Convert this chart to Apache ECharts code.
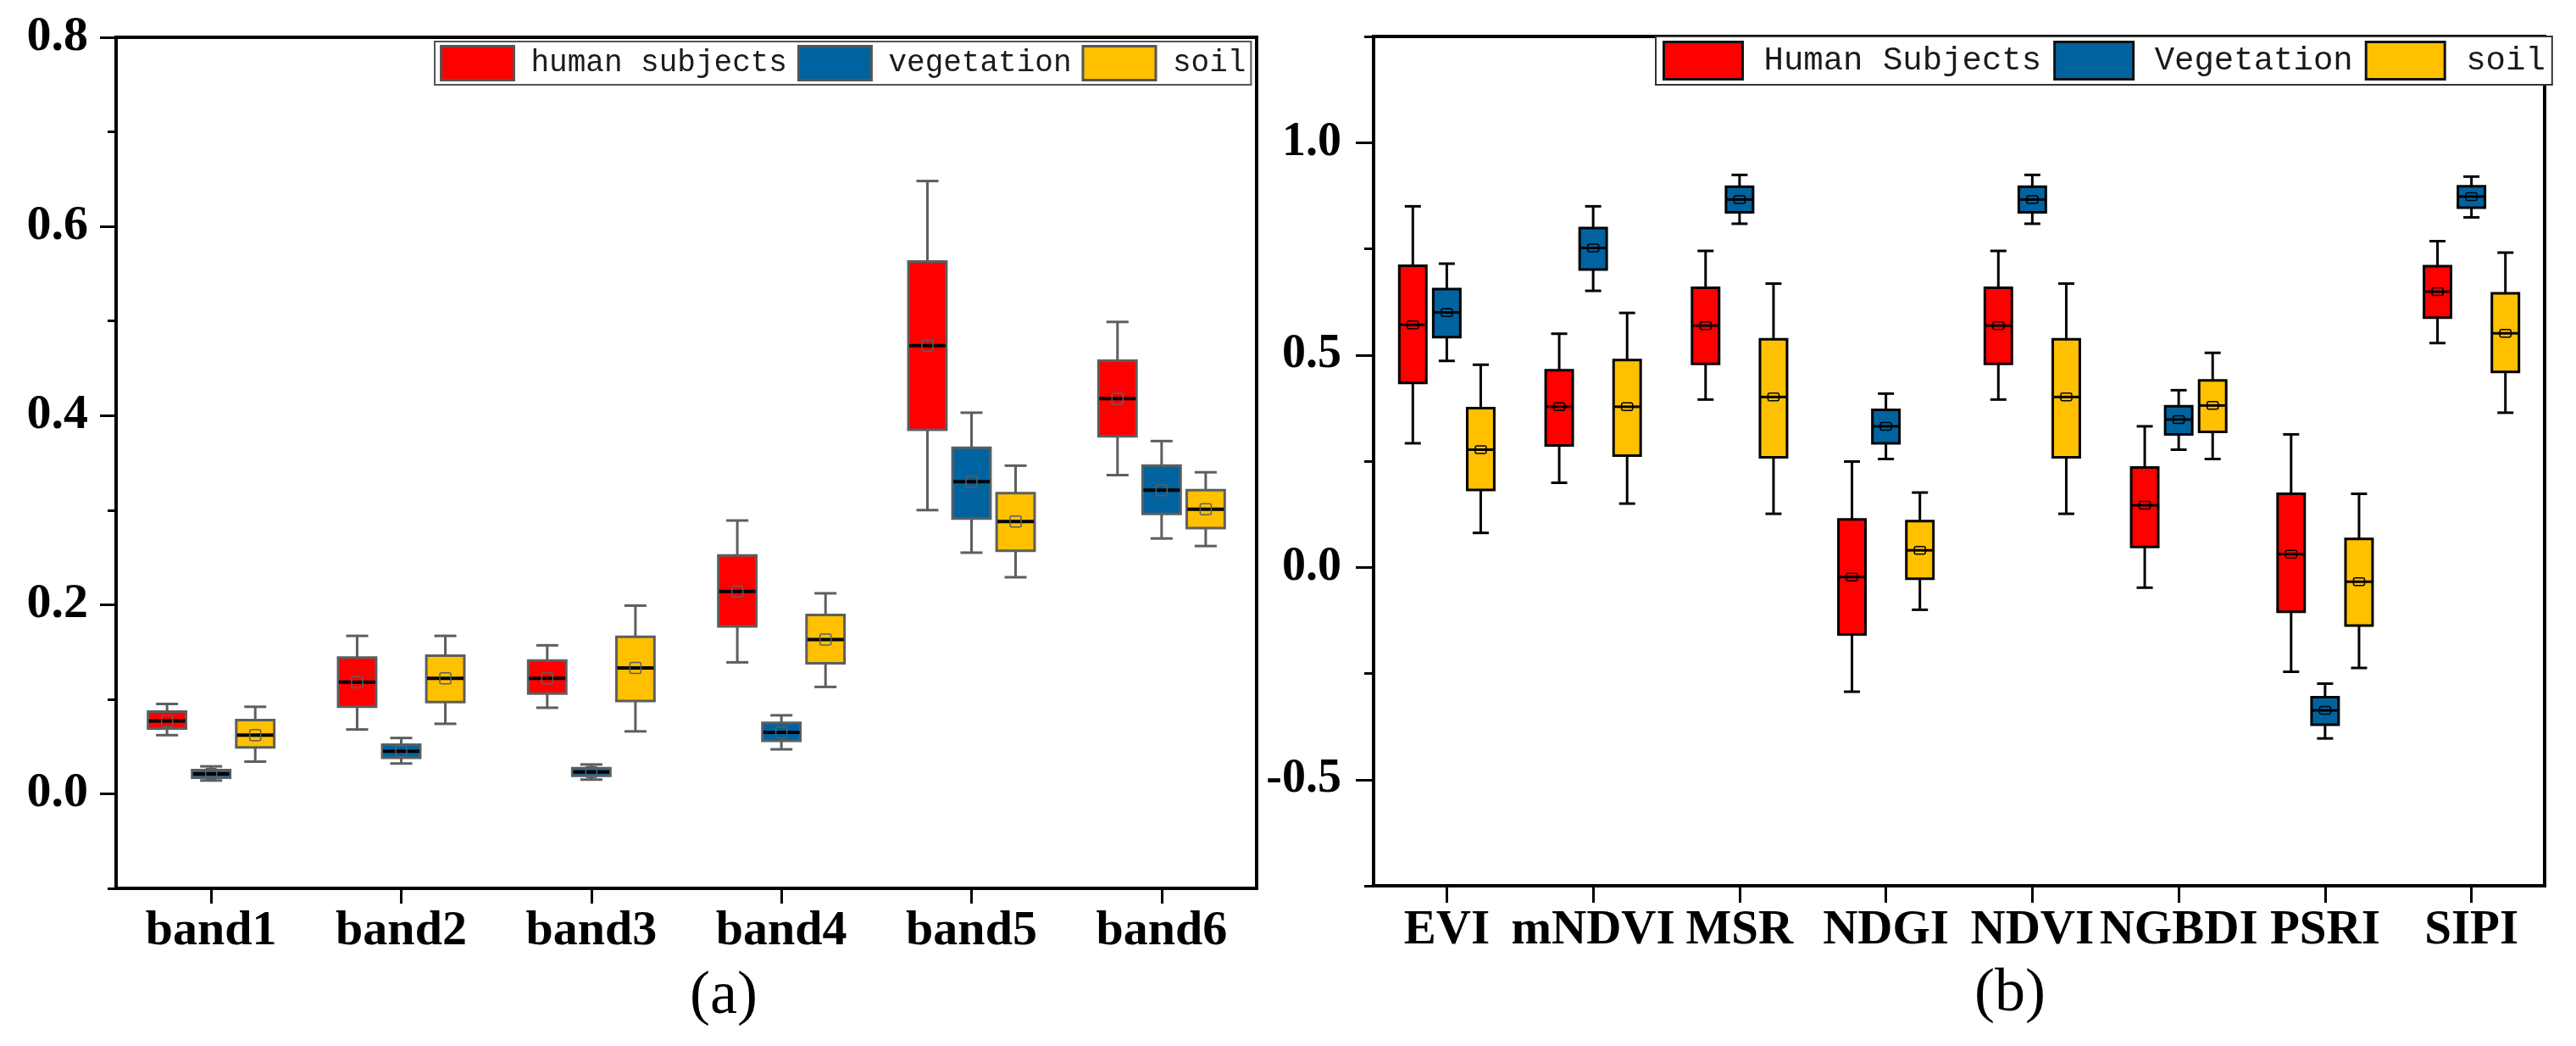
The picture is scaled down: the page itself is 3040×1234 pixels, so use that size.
<!DOCTYPE html>
<html>
<head>
<meta charset="utf-8">
<script src="https://cdn.jsdelivr.net/npm/echarts@6/dist/echarts.min.js"></script>
<style>
html,body{margin:0;padding:0;background:#fff;}
#chart{width:3040px;height:1234px;}
</style>
</head>
<body>
<div id="chart"></div>
<script>
// ---------- Data (min, Q1, median, Q3, max) ----------
const bandCategories = ['band1', 'band2', 'band3', 'band4', 'band5', 'band6'];
const bandHuman = [
  [0.062, 0.069, 0.077, 0.087, 0.095],
  [0.068, 0.092, 0.118, 0.144, 0.167],
  [0.091, 0.106, 0.122, 0.141, 0.157],
  [0.139, 0.177, 0.214, 0.252, 0.289],
  [0.300, 0.385, 0.474, 0.563, 0.648],
  [0.337, 0.378, 0.418, 0.458, 0.499]
];
const bandHumanMean = [0.077, 0.118, 0.122, 0.214, 0.474, 0.418];
const bandVegetation = [
  [0.014, 0.017, 0.021, 0.025, 0.029],
  [0.032, 0.038, 0.045, 0.052, 0.059],
  [0.015, 0.019, 0.023, 0.027, 0.031],
  [0.047, 0.056, 0.065, 0.075, 0.083],
  [0.255, 0.291, 0.330, 0.366, 0.403],
  [0.270, 0.296, 0.321, 0.347, 0.373]
];
const bandVegetationMean = [0.021, 0.045, 0.023, 0.065, 0.330, 0.321];
const bandSoil = [
  [0.034, 0.049, 0.062, 0.078, 0.092],
  [0.074, 0.097, 0.122, 0.146, 0.167],
  [0.066, 0.098, 0.133, 0.166, 0.199],
  [0.113, 0.138, 0.163, 0.189, 0.212],
  [0.229, 0.257, 0.288, 0.318, 0.347],
  [0.262, 0.281, 0.301, 0.321, 0.340]
];
const bandSoilMean = [0.062, 0.122, 0.133, 0.163, 0.288, 0.301];

const indexCategories = ['EVI', 'mNDVI', 'MSR', 'NDGI', 'NDVI', 'NGBDI', 'PSRI', 'SIPI'];
const indexHuman = [
  [0.292, 0.434, 0.571, 0.710, 0.850],
  [0.199, 0.287, 0.378, 0.464, 0.550],
  [0.395, 0.479, 0.569, 0.658, 0.745],
  [-0.293, -0.158, -0.023, 0.113, 0.249],
  [0.395, 0.479, 0.569, 0.658, 0.745],
  [-0.048, 0.048, 0.146, 0.235, 0.332],
  [-0.246, -0.105, 0.031, 0.173, 0.313],
  [0.528, 0.588, 0.649, 0.709, 0.768]
];
const indexHumanMean = [0.571, 0.378, 0.569, -0.023, 0.569, 0.146, 0.031, 0.649];
const indexVegetation = [
  [0.486, 0.542, 0.600, 0.655, 0.715],
  [0.651, 0.701, 0.752, 0.799, 0.850],
  [0.809, 0.836, 0.866, 0.896, 0.924],
  [0.255, 0.292, 0.332, 0.371, 0.409],
  [0.809, 0.836, 0.866, 0.896, 0.924],
  [0.277, 0.313, 0.348, 0.379, 0.417],
  [-0.403, -0.371, -0.337, -0.306, -0.274],
  [0.824, 0.847, 0.873, 0.897, 0.920]
];
const indexVegetationMean = [0.600, 0.752, 0.866, 0.332, 0.866, 0.348, -0.337, 0.873];
const indexSoil = [
  [0.081, 0.182, 0.277, 0.375, 0.477],
  [0.150, 0.263, 0.378, 0.488, 0.599],
  [0.126, 0.259, 0.401, 0.537, 0.668],
  [-0.100, -0.027, 0.040, 0.109, 0.176],
  [0.126, 0.259, 0.401, 0.537, 0.668],
  [0.255, 0.319, 0.381, 0.440, 0.505],
  [-0.237, -0.137, -0.034, 0.067, 0.173],
  [0.364, 0.460, 0.551, 0.645, 0.741]
];
const indexSoilMean = [0.277, 0.378, 0.401, 0.040, 0.401, 0.381, -0.034, 0.551];

const leftMajorTicks = [0, 0.2, 0.4, 0.6, 0.8];
const leftMinorTicks = [-0.1, 0.1, 0.3, 0.5, 0.7];
const rightMajorTicks = [-0.5, 0, 0.5, 1.0];
const rightMinorTicks = [-0.75, -0.25, 0.25, 0.75, 1.25];

// ---------- Styles ----------
const RED = '#ff0000', BLUE = '#0063a0', YELLOW = '#ffc000';
const SERIF = 'Liberation Serif';
const MONO = 'Liberation Mono';

function rows(stats, means) {
  return stats.map((s, i) => [i, s[0], s[1], s[2], s[3], s[4], means[i]]);
}

function boxRenderer(opt) {
  return function (params, api) {
    const cat = api.value(0);
    const band = api.size([1, 0])[0];
    const pMin = api.coord([cat, api.value(1)]);
    const pQ1 = api.coord([cat, api.value(2)]);
    const pMed = api.coord([cat, api.value(3)]);
    const pQ3 = api.coord([cat, api.value(4)]);
    const pMax = api.coord([cat, api.value(5)]);
    const pMean = api.coord([cat, api.value(6)]);
    const cx = pMin[0] + opt.offset * band;
    const w = opt.width * band;
    const cap = opt.cap * band;
    const ls = { stroke: opt.line, lineWidth: opt.lineWidth };
    return {
      type: 'group',
      children: [
        { type: 'line', shape: { x1: cx, y1: pMax[1], x2: cx, y2: pQ3[1] }, style: ls },
        { type: 'line', shape: { x1: cx, y1: pQ1[1], x2: cx, y2: pMin[1] }, style: ls },
        { type: 'line', shape: { x1: cx - cap / 2, y1: pMax[1], x2: cx + cap / 2, y2: pMax[1] }, style: ls },
        { type: 'line', shape: { x1: cx - cap / 2, y1: pMin[1], x2: cx + cap / 2, y2: pMin[1] }, style: ls },
        { type: 'rect', shape: { x: cx - w / 2, y: pQ3[1], width: w, height: pQ1[1] - pQ3[1] },
          style: { fill: opt.color, stroke: opt.line, lineWidth: opt.lineWidth } },
        { type: 'line', shape: { x1: cx - w / 2 + 1, y1: pMed[1], x2: cx + w / 2 - 1, y2: pMed[1] },
          style: { stroke: '#000', lineWidth: opt.medianWidth } },
        { type: 'rect', shape: { x: cx - opt.mw / 2, y: pMean[1] - opt.mh / 2, width: opt.mw, height: opt.mh, r: 2 },
          style: { fill: 'none', stroke: opt.meanLine, lineWidth: 1.5 } }
      ]
    };
  };
}

function leftSeries(name, stats, means, color, offset) {
  return {
    type: 'custom', name: name, xAxisIndex: 0, yAxisIndex: 0,
    itemStyle: { color: color },
    encode: { x: 0, y: [1, 2, 3, 4, 5, 6] },
    data: rows(stats, means),
    renderItem: boxRenderer({ offset: offset, width: 0.2, cap: 0.116, color: color,
      line: '#5a5f60', lineWidth: 3, medianWidth: 4, mw: 13, mh: 13, meanLine: '#5a5f60' })
  };
}
function rightSeries(name, stats, means, color, offset) {
  return {
    type: 'custom', name: name, xAxisIndex: 1, yAxisIndex: 2,
    itemStyle: { color: color },
    encode: { x: 0, y: [1, 2, 3, 4, 5, 6] },
    data: rows(stats, means),
    renderItem: boxRenderer({ offset: offset, width: 0.185, cap: 0.11, color: color,
      line: '#000', lineWidth: 3, medianWidth: 3, mw: 13, mh: 9, meanLine: '#000' })
  };
}

const axisLineStyle = { show: true, onZero: false, lineStyle: { color: '#000', width: 4 } };
const catLabel = { fontFamily: SERIF, fontWeight: 'bold', fontSize: 58, color: '#000', margin: 22, interval: 0 };
const valLabel = { fontFamily: SERIF, fontWeight: 'bold', fontSize: 58, color: '#000' };

function legendItem(name, color, border) {
  return { name: name, icon: 'rect', itemStyle: { color: color, borderColor: border, borderWidth: 3 } };
}

const option = {
  backgroundColor: '#fff',
  animation: false,
  grid: [
    { left: 137, right: 1557, top: 44, bottom: 186, show: true, borderColor: '#000', borderWidth: 4, backgroundColor: 'transparent' },
    { left: 1621, right: 37, top: 43, bottom: 189, show: true, borderColor: '#000', borderWidth: 4, backgroundColor: 'transparent' }
  ],
  legend: [
    {
      left: 513, top: 49, orient: 'horizontal', selectedMode: false,
      itemWidth: 86, itemHeight: 40, itemGap: 12,
      padding: [4, 6], backgroundColor: '#fff', borderColor: '#555', borderWidth: 2,
      textStyle: { fontFamily: MONO, fontSize: 36, color: '#1a1a1a', padding: [0, 0, 0, 15] },
      data: [legendItem('human subjects', RED, '#555'), legendItem('vegetation', BLUE, '#555'), legendItem('soil', YELLOW, '#555')]
    },
    {
      left: 1954, top: 43, orient: 'horizontal', selectedMode: false,
      itemWidth: 93, itemHeight: 44, itemGap: 14,
      padding: [5, 8], backgroundColor: '#fff', borderColor: '#333', borderWidth: 2,
      textStyle: { fontFamily: MONO, fontSize: 39, color: '#1a1a1a', padding: [0, 0, 0, 20] },
      data: [legendItem('Human Subjects', RED, '#111'), legendItem('Vegetation', BLUE, '#111'), legendItem('soil', YELLOW, '#111')]
    }
  ],
  xAxis: [
    {
      type: 'category', gridIndex: 0, data: bandCategories, boundaryGap: true,
      axisLine: axisLineStyle,
      axisTick: { show: true, alignWithLabel: true, interval: 0, length: 18, lineStyle: { color: '#000', width: 3 } },
      axisLabel: catLabel, splitLine: { show: false }
    },
    {
      type: 'category', gridIndex: 1, data: indexCategories, boundaryGap: true,
      axisLine: axisLineStyle,
      axisTick: { show: true, alignWithLabel: true, interval: 0, length: 20, lineStyle: { color: '#000', width: 3 } },
      axisLabel: Object.assign({}, catLabel, { fontSize: 57, margin: 25 }), splitLine: { show: false }
    }
  ],
  yAxis: [
    {
      type: 'value', gridIndex: 0, min: -0.1, max: 0.8,
      axisLine: axisLineStyle,
      axisTick: { show: true, length: 19, customValues: leftMajorTicks, lineStyle: { color: '#000', width: 3 } },
      axisLabel: Object.assign({}, valLabel, { margin: 33, customValues: leftMajorTicks, formatter: v => v.toFixed(1) }),
      splitLine: { show: false }
    },
    {
      type: 'value', gridIndex: 0, min: -0.1, max: 0.8, position: 'left',
      axisLine: { show: false },
      axisTick: { show: true, length: 10, customValues: leftMinorTicks, lineStyle: { color: '#000', width: 3 } },
      axisLabel: { show: false }, splitLine: { show: false }
    },
    {
      type: 'value', gridIndex: 1, min: -0.75, max: 1.25,
      axisLine: axisLineStyle,
      axisTick: { show: true, length: 21, customValues: rightMajorTicks, lineStyle: { color: '#000', width: 3 } },
      axisLabel: Object.assign({}, valLabel, { fontSize: 56, margin: 38, customValues: rightMajorTicks, formatter: v => v.toFixed(1) }),
      splitLine: { show: false }
    },
    {
      type: 'value', gridIndex: 1, min: -0.75, max: 1.25, position: 'left',
      axisLine: { show: false },
      axisTick: { show: true, length: 11, customValues: rightMinorTicks, lineStyle: { color: '#000', width: 3 } },
      axisLabel: { show: false }, splitLine: { show: false }
    }
  ],
  graphic: [
    { type: 'text', left: 854 - 40, top: 1140, style: { text: '(a)', font: '72px "Liberation Serif"', fill: '#000' } },
    { type: 'text', left: 2370 - 40, top: 1137, style: { text: '(b)', font: '72px "Liberation Serif"', fill: '#000' } }
  ],
  series: [
    leftSeries('human subjects', bandHuman, bandHumanMean, RED, -0.232),
    leftSeries('vegetation', bandVegetation, bandVegetationMean, BLUE, 0),
    leftSeries('soil', bandSoil, bandSoilMean, YELLOW, 0.232),
    rightSeries('Human Subjects', indexHuman, indexHumanMean, RED, -0.232),
    rightSeries('Vegetation', indexVegetation, indexVegetationMean, BLUE, 0),
    rightSeries('soil', indexSoil, indexSoilMean, YELLOW, 0.232)
  ]
};

const chart = echarts.init(document.getElementById('chart'), null, { renderer: 'canvas' });
chart.setOption(option);
</script>
</body>
</html>
